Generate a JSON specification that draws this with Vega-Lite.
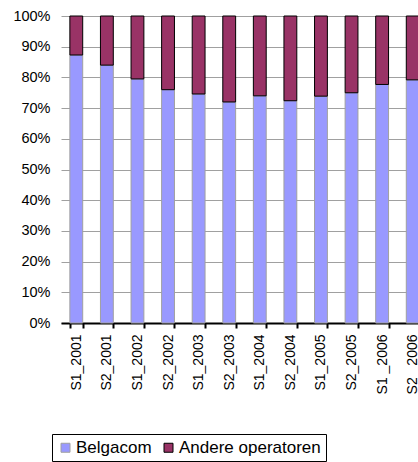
{
  "$schema": "https://vega.github.io/schema/vega-lite/v6.json",
  "width": 357,
  "height": 307,
  "autosize": {"type": "none"},
  "padding": {"left": 61, "top": 16, "right": 0, "bottom": 139},
  "background": "white",
  "config": {
    "font": "Liberation Sans",
    "view": {"stroke": null}
  },
  "data": {
    "values": [
      {"period": "S1_2001", "series": "Belgacom", "share": 87.3},
      {"period": "S1_2001", "series": "Andere operatoren", "share": 12.7},
      {"period": "S2_2001", "series": "Belgacom", "share": 84.0},
      {"period": "S2_2001", "series": "Andere operatoren", "share": 16.0},
      {"period": "S1_2002", "series": "Belgacom", "share": 79.5},
      {"period": "S1_2002", "series": "Andere operatoren", "share": 20.5},
      {"period": "S2_2002", "series": "Belgacom", "share": 76.0},
      {"period": "S2_2002", "series": "Andere operatoren", "share": 24.0},
      {"period": "S1_2003", "series": "Belgacom", "share": 74.6},
      {"period": "S1_2003", "series": "Andere operatoren", "share": 25.4},
      {"period": "S2_2003", "series": "Belgacom", "share": 72.0},
      {"period": "S2_2003", "series": "Andere operatoren", "share": 28.0},
      {"period": "S1_2004", "series": "Belgacom", "share": 74.0},
      {"period": "S1_2004", "series": "Andere operatoren", "share": 26.0},
      {"period": "S2_2004", "series": "Belgacom", "share": 72.4},
      {"period": "S2_2004", "series": "Andere operatoren", "share": 27.6},
      {"period": "S1_2005", "series": "Belgacom", "share": 73.9},
      {"period": "S1_2005", "series": "Andere operatoren", "share": 26.1},
      {"period": "S2_2005", "series": "Belgacom", "share": 75.0},
      {"period": "S2_2005", "series": "Andere operatoren", "share": 25.0},
      {"period": "S1 _2006", "series": "Belgacom", "share": 77.7},
      {"period": "S1 _2006", "series": "Andere operatoren", "share": 22.3},
      {"period": "S2 _2006", "series": "Belgacom", "share": 79.2},
      {"period": "S2 _2006", "series": "Andere operatoren", "share": 20.8}
    ]
  },
  "mark": {"type": "bar", "strokeWidth": 1},
  "encoding": {
    "x": {
      "field": "period",
      "type": "nominal",
      "sort": null,
      "title": null,
      "scale": {"range": [0, 367], "paddingInner": 0.58, "paddingOuter": 0.29},
      "axis": {
        "labelAngle": 270,
        "labelAlign": "right",
        "labelBaseline": "middle",
        "labelFontSize": 14,
        "labelColor": "black",
        "labelPadding": 6,
        "tickBand": "extent",
        "tickColor": "black",
        "tickWidth": 2,
        "tickSize": 5,
        "domainColor": "black",
        "domainWidth": 2,
        "grid": false
      }
    },
    "y": {
      "field": "share",
      "type": "quantitative",
      "stack": "normalize",
      "title": null,
      "scale": {"domain": [0, 1], "nice": false},
      "axis": {
        "values": [0, 0.1, 0.2, 0.3, 0.4, 0.5, 0.6, 0.7, 0.8, 0.9, 1],
        "format": ".0%",
        "domain": false,
        "ticks": false,
        "labelPadding": 11,
        "labelFontSize": 14.5,
        "labelColor": "black",
        "gridColor": "#a0a0a0",
        "gridWidth": 1,
        "gridOpacity": 1
      }
    },
    "color": {
      "field": "series",
      "type": "nominal",
      "scale": {"domain": ["Belgacom", "Andere operatoren"], "range": ["#9999FF", "#993366"]},
      "legend": {
        "title": null,
        "orient": "none",
        "direction": "horizontal",
        "legendX": -9,
        "legendY": 418,
        "fillColor": "white",
        "strokeColor": "black",
        "padding": 5,
        "symbolType": "square",
        "symbolSize": 81,
        "symbolStrokeColor": "black",
        "symbolStrokeWidth": 1,
        "symbolOpacity": 1,
        "labelFontSize": 17,
        "labelColor": "black",
        "labelOffset": 2,
        "columnPadding": 8
      }
    },
    "stroke": {
      "field": "series",
      "type": "nominal",
      "scale": {"domain": ["Belgacom", "Andere operatoren"], "range": ["#a0a0a0", "#000000"]},
      "legend": null
    },
    "order": {"field": "series", "sort": "descending"}
  }
}
